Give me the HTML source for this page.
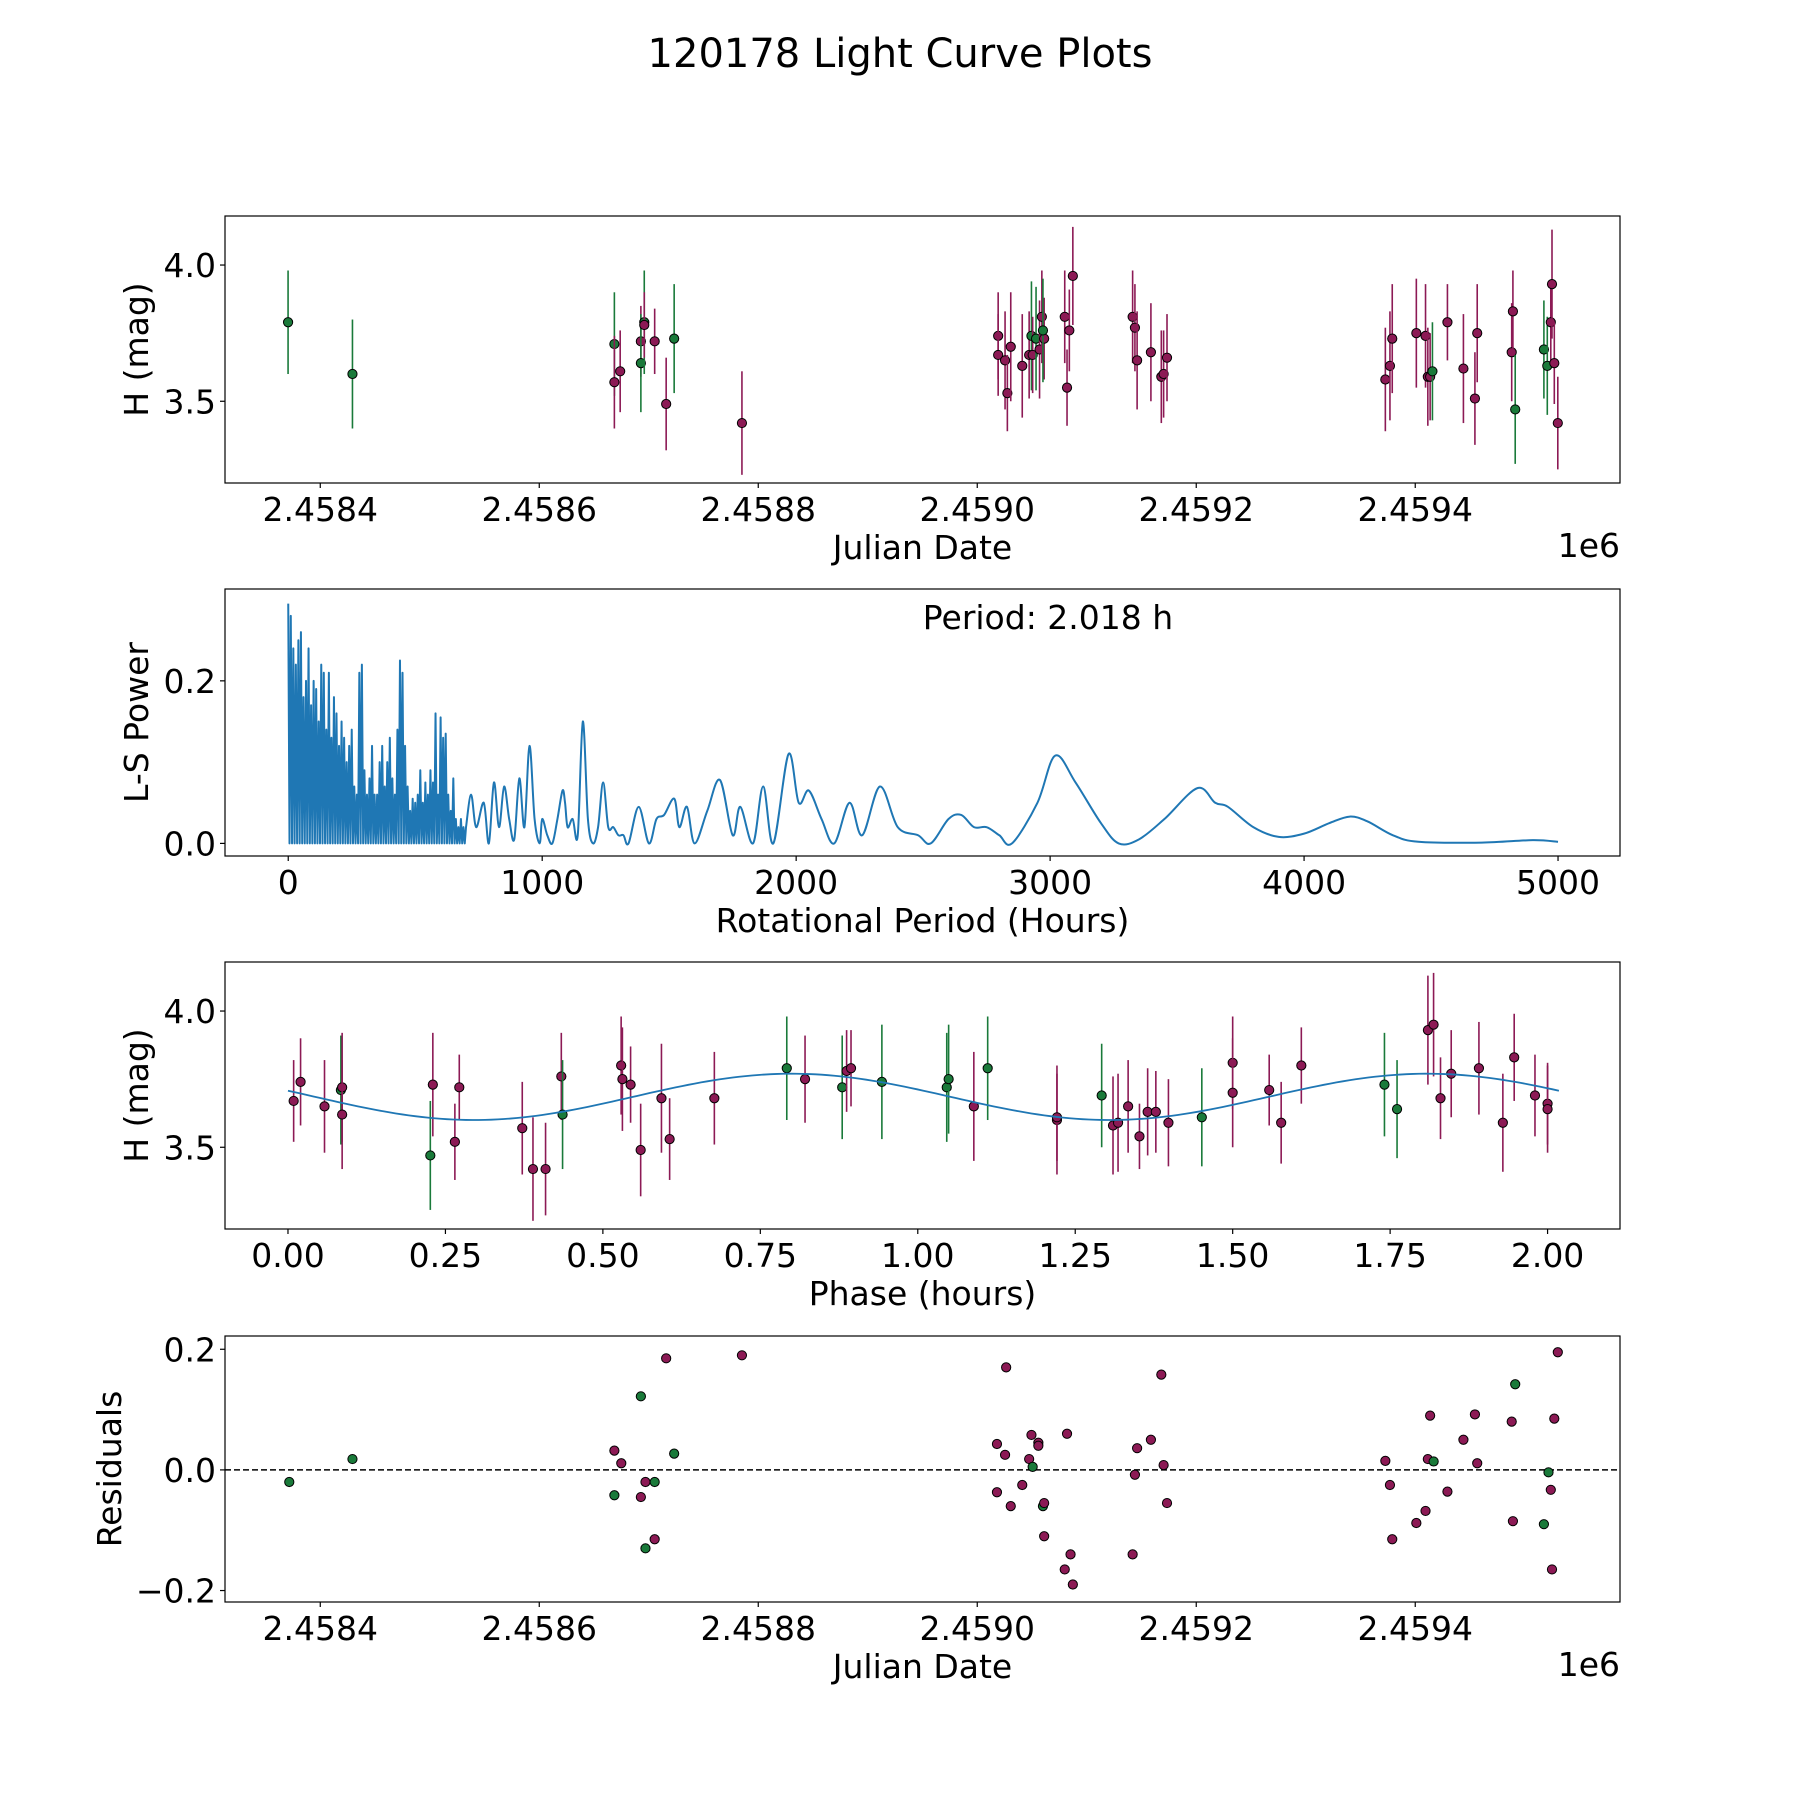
<!DOCTYPE html>
<html><head><meta charset="utf-8"><style>
html,body{margin:0;padding:0;background:#fff;}
svg text{font-family:"DejaVu Sans","Liberation Sans",sans-serif;fill:#000;}
</style></head><body>
<svg id="fig" width="1800" height="1800" viewBox="0 0 1800 1800" xmlns="http://www.w3.org/2000/svg">
<rect width="1800" height="1800" fill="#fff"/>
<text x="900" y="67" font-size="40" text-anchor="middle">120178 Light Curve Plots</text>
</svg>
<script>
// ---- data: days since JD 2458400 ----
const lcDays=[-29.4,29.4,268.6,268.6,273.9,292.8,292.8,295.9,295.9,305.4,315.9,323.2,385.1,619.1,619.1,625.4,627.5,630.6,641.1,647.4,649.5,650.6,653.7,656.9,659,661.1,660,679.9,682,684.1,687.3,741.9,744,746,758.6,768.1,770.2,773.3,972.7,976.9,979,1001,1009.4,1011.5,1013.6,1015.7,1029.4,1044,1054.5,1056.6,1088.1,1089.2,1091.3,1117.5,1120.6,1123.8,1124.9,1127,1130.2];
const lcMag=[3.79,3.60,3.71,3.57,3.61,3.72,3.64,3.79,3.78,3.72,3.49,3.73,3.42,3.74,3.67,3.65,3.53,3.70,3.63,3.67,3.74,3.67,3.73,3.69,3.81,3.73,3.76,3.81,3.55,3.76,3.96,3.81,3.77,3.65,3.68,3.59,3.60,3.66,3.58,3.63,3.73,3.75,3.74,3.59,3.59,3.61,3.79,3.62,3.51,3.75,3.68,3.83,3.47,3.69,3.63,3.79,3.93,3.64,3.42];
const lcErr=[0.19,0.20,0.19,0.17,0.15,0.13,0.18,0.19,0.12,0.12,0.17,0.20,0.19,0.16,0.15,0.18,0.14,0.2,0.19,0.16,0.2,0.14,0.19,0.18,0.17,0.15,0.19,0.17,0.14,0.15,0.18,0.17,0.16,0.18,0.18,0.17,0.16,0.16,0.19,0.2,0.2,0.2,0.19,0.18,0.16,0.18,0.14,0.2,0.17,0.18,0.18,0.15,0.2,0.18,0.18,0.14,0.2,0.15,0.17];
const lcGreen=[1,1,1,0,0,0,1,1,0,0,0,1,0,0,0,0,0,0,0,0,1,0,1,0,0,0,1,0,0,0,0,0,0,0,0,0,0,0,0,0,0,0,0,0,0,1,0,0,0,0,0,0,1,1,1,0,0,0,0];

const perNoiseP=[0,10,20,30,40,50,60,70,80,90,100,110,120,130,140,150,160,170,180,190,200,210,220,230,240,250,260,270,280,290,300,310,320,330,340,350,360,370,380,390,400,410,420,430,440,450,460,470,480,490,500,510,520,530,540,550,560,570,580,590,600,610,620,630,640,650,660,670,680,690];
const perNoiseV=[0.295,0.28,0.24,0.22,0.25,0.26,0.18,0.20,0.24,0.17,0.20,0.19,0.15,0.22,0.21,0.14,0.21,0.13,0.18,0.16,0.12,0.15,0.13,0.10,0.12,0.14,0.07,0.06,0.21,0.22,0.09,0.06,0.08,0.12,0.06,0.06,0.10,0.12,0.07,0.10,0.13,0.08,0.06,0.14,0.225,0.21,0.12,0.07,0.04,0.055,0.05,0.06,0.09,0.05,0.075,0.06,0.09,0.075,0.16,0.06,0.155,0.13,0.135,0.06,0.04,0.08,0.03,0.02,0.03,0.02];
const perSmoothP=[700,720,740,770,790,810,830,850,870,890,910,930,950,970,990,1000,1020,1040,1060,1080,1090,1100,1120,1140,1160,1180,1200,1220,1240,1260,1280,1300,1320,1340,1380,1420,1450,1480,1520,1540,1570,1600,1650,1700,1750,1780,1830,1870,1910,1970,2010,2050,2100,2150,2210,2260,2330,2400,2480,2530,2600,2650,2700,2750,2800,2850,2950,3020,3100,3200,3270,3350,3450,3580,3650,3700,3800,3900,4000,4100,4180,4250,4350,4450,4700,4900,5000];
const perSmoothV=[0.02,0.06,0.02,0.05,0.0,0.075,0.02,0.07,0.03,0.005,0.08,0.02,0.12,0.03,0.0,0.03,0.01,0.0,0.03,0.065,0.05,0.02,0.03,0.01,0.15,0.03,0.0,0.02,0.075,0.02,0.02,0.01,0.01,0.0,0.045,0.0,0.03,0.035,0.055,0.02,0.045,0.0,0.04,0.078,0.01,0.045,0.0,0.07,0.0,0.11,0.05,0.065,0.03,0.0,0.05,0.01,0.07,0.02,0.01,0.0,0.03,0.035,0.02,0.02,0.01,0.0,0.05,0.108,0.075,0.025,0.0,0.005,0.03,0.068,0.05,0.045,0.02,0.008,0.012,0.025,0.033,0.027,0.01,0.002,0.001,0.004,0.002];

const phX=[.009,.020,.058,.084,.086,.086,.226,.230,.265,.272,.372,.389,.409,.434,.436,.529,.531,.544,.560,.593,.606,.677,.792,.821,.880,.887,.894,.943,1.046,1.049,1.089,1.111,1.221,1.221,1.292,1.310,1.318,1.334,1.352,1.365,1.378,1.398,1.451,1.5,1.5,1.558,1.577,1.609,1.741,1.761,1.810,1.819,1.830,1.847,1.891,1.929,1.947,1.980,2.0,2.0];
const phMag=[3.67,3.74,3.65,3.71,3.72,3.62,3.47,3.73,3.52,3.72,3.57,3.42,3.42,3.76,3.62,3.80,3.75,3.73,3.49,3.68,3.53,3.68,3.79,3.75,3.72,3.78,3.79,3.74,3.72,3.75,3.65,3.79,3.60,3.61,3.69,3.58,3.59,3.65,3.54,3.63,3.63,3.59,3.61,3.81,3.70,3.71,3.59,3.80,3.73,3.64,3.93,3.95,3.68,3.77,3.79,3.59,3.83,3.69,3.66,3.64];
const phErr=[0.15,0.16,0.17,0.2,0.2,0.2,0.2,0.19,0.14,0.12,0.17,0.19,0.17,0.16,0.2,0.18,0.19,0.14,0.17,0.2,0.15,0.17,0.19,0.16,0.19,0.15,0.14,0.21,0.2,0.2,0.2,0.19,0.2,0.16,0.19,0.18,0.18,0.17,0.12,0.16,0.15,0.16,0.18,0.17,0.2,0.13,0.15,0.14,0.19,0.18,0.2,0.19,0.15,0.16,0.17,0.18,0.16,0.15,0.15,0.16];
const phGreen=[0,0,0,1,0,0,1,0,0,0,0,0,0,0,1,0,0,0,0,0,0,0,1,0,1,0,0,1,1,1,0,1,0,0,1,0,0,0,0,0,0,0,1,0,0,0,0,0,1,1,0,0,0,0,0,0,0,0,0,0];
const fitParams=[3.685,0.085,0.80,1.009]; // mean, amplitude, phase of max, period

const resDays=[-28.3,29.4,268.6,268.6,274.9,292.8,292.8,297,297,305.4,305.4,315.9,323.2,385.1,618,618,625.4,626.4,630.6,641.1,647.4,649.5,650.6,655.8,655.8,660,661.1,661.1,679.9,682,685.2,687.3,741.9,744,746,758.6,768.1,770.2,773.3,972.7,976.9,979,1001,1009.4,1011.5,1013.6,1016.8,1029.4,1044,1054.5,1056.6,1088.1,1089.2,1091.3,1117.5,1121.7,1123.8,1124.9,1127,1130.2];
const resVal=[-0.02,0.018,0.032,-0.042,0.011,0.122,-0.045,-0.02,-0.13,-0.02,-0.115,0.185,0.027,0.19,0.043,-0.037,0.025,0.17,-0.06,-0.025,0.018,0.058,0.005,0.045,0.04,-0.06,-0.055,-0.11,-0.165,0.06,-0.14,-0.19,-0.14,-0.008,0.036,0.05,0.158,0.008,-0.055,0.015,-0.025,-0.115,-0.088,-0.068,0.018,0.09,0.014,-0.036,0.05,0.092,0.011,0.08,-0.085,0.142,-0.09,-0.004,-0.033,-0.165,0.085,0.195];
const resGreen=[1,1,0,1,0,1,0,0,1,1,0,0,1,0,0,0,0,0,0,0,0,0,1,0,0,1,0,0,0,0,0,0,0,0,0,0,0,0,0,0,0,0,0,0,0,0,1,0,0,0,0,0,0,1,1,1,0,0,0,0];

const jdTicks=[0,200,400,600,800,1000];
const jdTickLabels=["2.4584","2.4586","2.4588","2.4590","2.4592","2.4594"];
const magTicks=[3.5,4.0], magTickLabels=["3.5","4.0"];
const perTicks=[0,1000,2000,3000,4000,5000], perTickLabels=["0","1000","2000","3000","4000","5000"];
const powTicks=[0,0.2], powTickLabels=["0.0","0.2"];
const phTicks=[0,0.25,0.5,0.75,1,1.25,1.5,1.75,2], phTickLabels=["0.00","0.25","0.50","0.75","1.00","1.25","1.50","1.75","2.00"];
const resTicks=[-0.2,0,0.2], resTickLabels=["\u22120.2","0.0","0.2"];

const NS="http://www.w3.org/2000/svg";
const svg=document.getElementById('fig');
const GREEN="#1a7a3a", MAROON="#8c1a55", BLUE="#1f77b4";
const L=225,R=1620;
const TFS=33;
function mk(tag,attrs,parent){const e=document.createElementNS(NS,tag);for(const k in attrs)e.setAttribute(k,attrs[k]);(parent||svg).appendChild(e);return e;}
function lin(d0,d1,r0,r1){return v=>r0+(v-d0)/(d1-d0)*(r1-r0);}

function axes(name,top,bot,xd,yd,xt,xtl,yt,ytl,xlabel,ylabel,ylabx){
  const g=mk('g',{});
  
  
  const X=lin(xd[0],xd[1],L,R), Y=lin(yd[0],yd[1],bot,top);
  xt.forEach((t,i)=>{const x=X(t);
    mk('line',{x1:x,x2:x,y1:bot,y2:bot+5,stroke:'#000','stroke-width':1.2},g);
    const tx=mk('text',{x:x,y:bot+38,'font-size':TFS,'text-anchor':'middle'},g);tx.textContent=xtl[i];
    
    });
  yt.forEach((t,i)=>{const y=Y(t);
    mk('line',{x1:L-5,x2:L,y1:y,y2:y,stroke:'#000','stroke-width':1.2},g);
    const tx=mk('text',{x:L-9,y:y+12,'font-size':TFS,'text-anchor':'end'},g);tx.textContent=ytl[i];
    
    });
  const xl=mk('text',{x:(L+R)/2,y:bot+76,'font-size':TFS,'text-anchor':'middle'},g);xl.textContent=xlabel;
  
  
  const yl=mk('text',{x:0,y:0,'font-size':TFS,'text-anchor':'middle',transform:`translate(${ylabx},${(top+bot)/2}) rotate(-90)`},g);yl.textContent=ylabel;
  
  
  const plot=mk('g',{},g);
  const cp='clip-'+name;
  const cpe=mk('clipPath',{id:cp},g);mk('rect',{x:L,y:top,width:R-L,height:bot-top},cpe);
  plot.setAttribute('clip-path',`url(#${cp})`);
  return {g,plot,X,Y,top,bot};
}
function frame(a){mk('rect',{x:L,y:a.top,width:R-L,height:a.bot-a.top,fill:'none',stroke:'#000','stroke-width':1.2},a.g);}
function exp1e6(a){const t=mk('text',{x:R,y:a.bot+74,'font-size':TFS,'text-anchor':'end'},a.g);t.textContent='1e6';
  
  }
function points(a,xs,ys,errs,gr,name){
  xs.forEach((x,i)=>{const c=gr[i]?GREEN:MAROON;const px=a.X(x),py=a.Y(ys[i]);
    if(errs){const e=mk('line',{x1:px,x2:px,y1:a.Y(ys[i]+errs[i]),y2:a.Y(ys[i]-errs[i]),stroke:c,'stroke-width':1.6},a.plot);
      
      }
    const p=mk('circle',{cx:px,cy:py,r:4.6,fill:c,stroke:'#000','stroke-width':1},a.plot);
    
    });
}
const JDX=[-87,1187];
// Panel 1
const a1=axes('light-curve-panel',216,483,JDX,[3.20,4.18],jdTicks,jdTickLabels,magTicks,magTickLabels,'Julian Date','H (mag)',148);
points(a1,lcDays,lcMag,lcErr,lcGreen,'observation');frame(a1);exp1e6(a1);
// Panel 2
const a2=axes('periodogram-panel',589,856,[-249,5244],[-0.0155,0.313],perTicks,perTickLabels,powTicks,powTickLabels,'Rotational Period (Hours)','L-S Power',148);
let d='';
perNoiseP.forEach((p,i)=>{d+=(i?'L':'M')+a2.X(p).toFixed(2)+','+a2.Y(perNoiseV[i]).toFixed(2)+'L'+a2.X(p+5).toFixed(2)+','+a2.Y(0).toFixed(2);});
const sp=perSmoothP.map((p,i)=>[a2.X(p),a2.Y(perSmoothV[i])]);
d+='L'+sp[0][0].toFixed(2)+','+sp[0][1].toFixed(2);
for(let i=0;i<sp.length-1;i++){
  const p0=sp[Math.max(0,i-1)],p1=sp[i],p2=sp[i+1],p3=sp[Math.min(sp.length-1,i+2)];
  const c1=[p1[0]+(p2[0]-p0[0])/6,p1[1]+(p2[1]-p0[1])/6];
  const c2=[p2[0]-(p3[0]-p1[0])/6,p2[1]-(p3[1]-p1[1])/6];
  d+='C'+c1[0].toFixed(2)+','+c1[1].toFixed(2)+' '+c2[0].toFixed(2)+','+c2[1].toFixed(2)+' '+p2[0].toFixed(2)+','+p2[1].toFixed(2);
}
const pl=mk('path',{d:d,fill:'none',stroke:BLUE,'stroke-width':2,'stroke-linejoin':'round'},a2.plot);


frame(a2);
const pt=mk('text',{x:1048,y:629,'font-size':TFS,'text-anchor':'middle'},a2.g);pt.textContent='Period: 2.018 h';


// Panel 3
const a3=axes('phase-folded-panel',962,1229,[-0.1,2.115],[3.20,4.18],phTicks,phTickLabels,magTicks,magTickLabels,'Phase (hours)','H (mag)',148);
points(a3,phX,phMag,phErr,phGreen,'phased');
let fd='';for(let k=0;k<=200;k++){const x=2.018*k/200;const y=fitParams[0]+fitParams[1]*Math.cos(2*Math.PI*(x-fitParams[2])/fitParams[3]);fd+=(k?'L':'M')+a3.X(x).toFixed(2)+','+a3.Y(y).toFixed(2);}
const fl=mk('path',{d:fd,fill:'none',stroke:BLUE,'stroke-width':1.8},a3.plot);


frame(a3);
// Panel 4
const a4=axes('residuals-panel',1336,1602,JDX,[-0.219,0.222],jdTicks,jdTickLabels,resTicks,resTickLabels,'Julian Date','Residuals',121);
const zl=mk('line',{x1:L,x2:R,y1:a4.Y(0),y2:a4.Y(0),stroke:'#000','stroke-width':1.5,'stroke-dasharray':'6,3'},a4.plot);


points(a4,resDays,resVal,null,resGreen,'residual');frame(a4);exp1e6(a4);
</script>
</body></html>
